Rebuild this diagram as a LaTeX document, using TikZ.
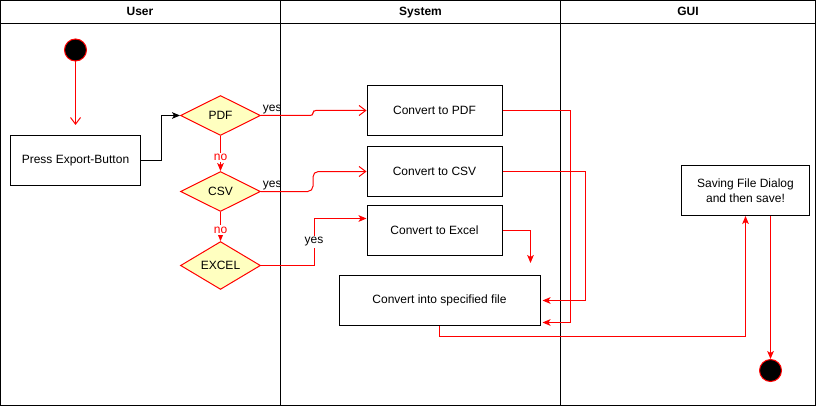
\documentclass[tikz,border=0pt]{standalone}
\usepackage{fontspec}
\setmainfont{Liberation Sans}
\usetikzlibrary{shapes.geometric,arrows.meta}
\definecolor{decfill}{HTML}{FFFFC0}

\begin{document}
\begin{tikzpicture}[x=0.75pt,y=-0.75pt,line width=0.75pt,
  font=\fontsize{9}{11}\selectfont,
  lane/.style={draw=black},
  lanehead/.style={font=\fontsize{9}{11}\selectfont\bfseries,text height=6.5pt,text depth=1.5pt,inner sep=0pt},
  act/.style={draw=black,fill=white,minimum height=37.5pt,align=center,inner sep=1pt},
  decision/.style={diamond,draw=red,fill=decfill,minimum width=60pt,minimum height=30pt,inner sep=0pt},
  dot/.style={circle,draw=red,fill=black,minimum size=16.5pt,inner sep=0pt},
  openflow/.style={draw=red,-{Straight Barb[length=5pt,width=7.5pt]}},
  flow/.style={draw=red,-{Stealth[length=6pt,width=5pt,inset=1.5pt]}},
  userflow/.style={draw=black,-{Stealth[length=6pt,width=5pt,inset=1.5pt]}},
  branch/.style={fill=white,inner sep=1pt}]
\useasboundingbox (0,0) rectangle (816,406);
\draw[lane] (0.5,0.5) rectangle (815.5,405.5);
\draw[lane] (0.5,23.5) -- (815.5,23.5);
\draw[lane] (280.5,0.5) -- (280.5,405.5);
\draw[lane] (560.5,0.5) -- (560.5,405.5);
\node[lanehead] (hduser) at (140,12.5) {User};
\node[lanehead] (hdsys) at (420.5,12.5) {System};
\node[lanehead] (hdgui) at (688,12.5) {GUI};
\node[dot] (start) at (75.5,50) {};
\node[act,minimum width=97.5pt] (press) at (75.5,160.5) {Press Export-Button};
\node[decision] (pdf) at (220.5,115.5) {PDF};
\node[decision] (csv) at (220.5,191.5) {CSV};
\node[decision] (excel) at (220.5,265.5) {EXCEL};
\node[act,minimum width=101.25pt] (pdfbox) at (434.5,110.5) {Convert to PDF};
\node[act,minimum width=101.25pt] (csvbox) at (434.5,171.5) {Convert to CSV};
\node[act,minimum width=101.25pt] (xlsbox) at (434.5,230.5) {Convert to Excel};
\node[act,minimum width=150.75pt] (spec) at (439.5,300.5) {Convert into specified file};
\node[act,minimum width=96pt] (save) at (745.5,190.5) {Saving File Dialog\\and then save!};
\node[dot] (stop) at (770.5,370.5) {};
\coordinate (xlsend) at (530.5,263);
\draw[openflow,shorten >=7.5pt] (start) -- (press);
\draw[userflow] (press.east) -- ++(20,0) |- (pdf.west);
\draw[flow] (pdf) -- node[branch,text=red,pos=0.62] {no} (csv);
\draw[flow] (csv) -- node[branch,text=red,pos=0.62] {no} (excel);
\draw[openflow,rounded corners=2pt] (pdf.east) node[anchor=south west,inner sep=1pt] {yes} -- ++(52,0) |- (pdfbox.west);
\draw[openflow,rounded corners=4pt] (csv.east) node[anchor=south west,inner sep=1pt] {yes} -- ++(52,0) |- (csvbox.west);
\draw[flow] (excel.east) -- ++(53,0) |- node[branch,pos=0.25] {yes} ([yshift=9pt]xlsbox.west);
\draw[flow] (pdfbox.east) -- ++(68,0) |- ([yshift=-16.5pt,xshift=1.5pt]spec.east);
\draw[flow] (csvbox.east) -- ++(83,0) |- ([xshift=1.5pt]spec.east);
\draw[flow] (xlsbox.east) -| (xlsend);
\draw[flow] (spec.south) -- ++(0,10) -| (save.south);
\draw[flow] (save.south -| stop) -- (stop);
\end{tikzpicture}
\end{document}
